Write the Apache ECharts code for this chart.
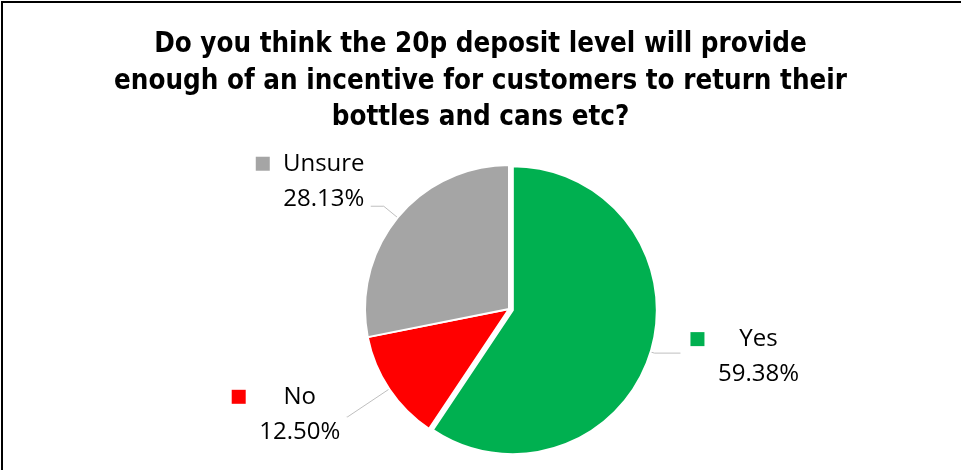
<!DOCTYPE html>
<html>
<head>
<meta charset="utf-8">
<script src="https://cdn.jsdelivr.net/npm/echarts@6/dist/echarts.min.js"></script>
<style>
  html, body { margin: 0; padding: 0; background: #ffffff; }
  #chart { width: 961px; height: 470px; }
</style>
</head>
<body>
<div id="chart"></div>
<script>
// Survey answers and their shares (percent)
const categories = ['Yes', 'No', 'Unsure'];
const shares = [59.38, 12.50, 28.13];
const sliceColors = ['#00B050', '#FF0000', '#A5A5A5'];

const titleText = 'Do you think the 20p deposit level will provide\n' +
  'enough of an incentive for customers to return their\n' +
  'bottles and cans etc?';

// Per-slice leader line lengths and label padding (keeps the value line next to the leader)
const leaderLengths = [[4, 26], [50, 1], [18, 13]];
const labelPaddings = [[7, 0, 0, 5], [0, 0, 5, 0], [0, 0, 50, 0]];

const labelFont = '"Open Sans", "Liberation Sans", sans-serif';

const rich = {
  g: { width: 12, align: 'left' },
  s: { width: 26, align: 'left' },
  n: { width: 84, align: 'center', fontSize: 24, fontFamily: labelFont, color: '#000' },
  v: { width: 84, align: 'center', fontSize: 24, fontFamily: labelFont, color: '#000' }
};
sliceColors.forEach((c, i) => {
  rich['k' + i] = { width: 14, height: 14, backgroundColor: c, align: 'left' };
});

const pieData = categories.map((name, i) => ({
  name: name,
  value: shares[i],
  selected: i === 0,
  itemStyle: { color: sliceColors[i] },
  label: { padding: labelPaddings[i] },
  labelLine: { length: leaderLengths[i][0], length2: leaderLengths[i][1] }
}));

const chart = echarts.init(document.getElementById('chart'), null, { renderer: 'canvas' });

chart.setOption({
  animation: false,
  backgroundColor: '#ffffff',
  title: {
    text: titleText,
    left: 'center',
    top: 27,
    padding: 0,
    textStyle: {
      fontFamily: '"DejaVu Sans Condensed", "Liberation Sans Narrow", sans-serif',
      fontWeight: 'bold',
      fontSize: 27.5,
      lineHeight: 36.5,
      color: '#000000'
    }
  },
  graphic: [
    { type: 'rect', shape: { x: 1, y: 1, width: 960, height: 2 }, style: { fill: '#000' }, silent: true },
    { type: 'rect', shape: { x: 1, y: 1, width: 2, height: 469 }, style: { fill: '#000' }, silent: true }
  ],
  series: [{
    type: 'pie',
    center: [509, 309],
    radius: 144,
    startAngle: 90,
    clockwise: true,
    selectedMode: 'single',
    selectedOffset: 4,
    avoidLabelOverlap: false,
    emphasis: { disabled: true },
    itemStyle: { borderColor: '#ffffff', borderWidth: 2 },
    label: {
      show: true,
      position: 'outside',
      distanceToLabelLine: 5,
      lineHeight: 35,
      formatter: p => '{k' + p.dataIndex + '|}{g|}{n|' + p.name + '}\n{s|}{v|' + p.value.toFixed(2) + '%}',
      rich: rich
    },
    labelLine: { show: true, smooth: false, lineStyle: { color: '#BFBFBF', width: 1 } },
    data: pieData
  }]
});
</script>
</body>
</html>
